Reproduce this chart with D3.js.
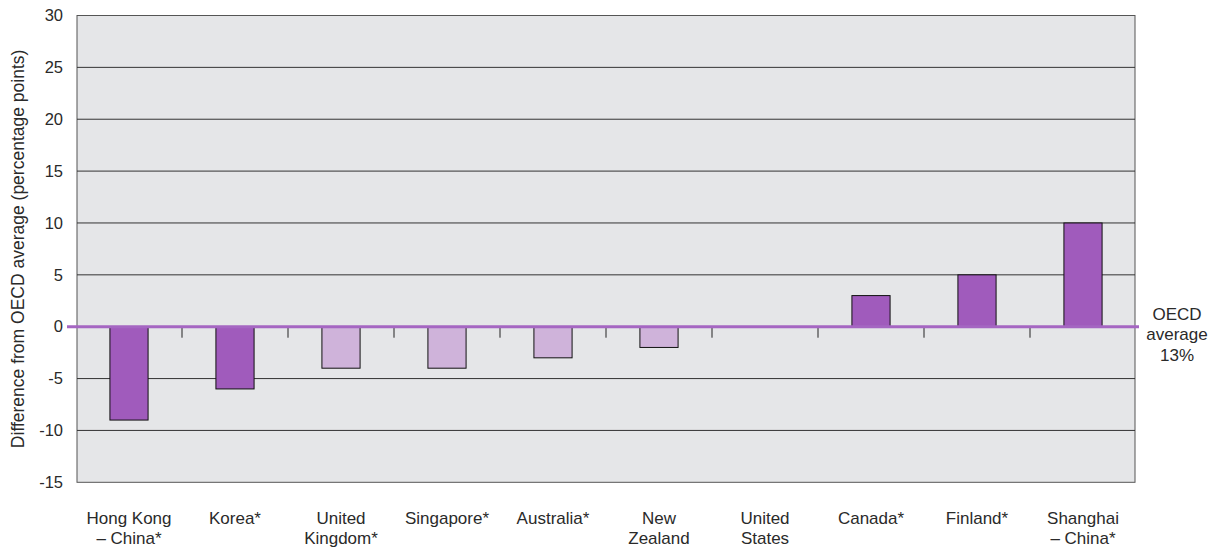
<!DOCTYPE html>
<html><head><meta charset="utf-8">
<script src="https://cdn.jsdelivr.net/npm/d3@7"></script>
<style>
body{margin:0;background:#fff;}
text{font-family:"Liberation Sans",Arial,sans-serif;fill:#2a2a2a;}
</style></head>
<body>
<svg id="c" width="1225" height="547"></svg>
<script>
const categories = ["Hong Kong|– China*","Korea*","United|Kingdom*","Singapore*","Australia*","New|Zealand","United|States","Canada*","Finland*","Shanghai|– China*"];
const values = [-9,-6,-4,-4,-3,-2,0,3,5,10];
const significant = [true,true,false,false,false,false,false,true,true,true];
const yTicks = [30,25,20,15,10,5,0,-5,-10,-15];
const yTitle = "Difference from OECD average (percentage points)";
const avgLabel = ["OECD","average","13%"];

(function(){
const svg = d3.select("#c");
const pL = 77, pR = 1135, pT = 15.5, pB = 482.3;
const x = d3.scaleBand().domain(categories).range([76, 1136]).paddingInner(0.64).paddingOuter(0.32);
const xb = d3.scaleBand().domain(categories).range([76, 1136]);
const y = d3.scaleLinear().domain([-15, 30]).range([pB, pT]);

svg.append("rect").attr("x", pL).attr("y", pT).attr("width", pR-pL).attr("height", pB-pT)
  .attr("fill", "#e5e6e8").attr("stroke", "#555").attr("stroke-width", 1);

svg.append("g").selectAll("line").data(yTicks.filter(d => d !== 0 && d !== 30 && d !== -15)).join("line")
  .attr("x1", pL).attr("x2", pR).attr("y1", d => y(d)).attr("y2", d => y(d))
  .attr("stroke", "#333").attr("stroke-width", 1);

svg.append("g").selectAll("text").data(yTicks).join("text")
  .attr("x", 63).attr("y", d => y(d)).attr("dy", "0.35em").attr("text-anchor", "end")
  .attr("font-size", 16.5).text(d => d);

svg.append("text").attr("transform", `translate(24,${(pT+pB)/2}) rotate(-90)`)
  .attr("text-anchor", "middle").attr("font-size", 17.5).text(yTitle);

svg.append("g").selectAll("rect").data(values.map((v,i)=>({v, c:categories[i], s:significant[i]})).filter(d=>d.v!==0))
  .join("rect")
  .attr("x", d => x(d.c)).attr("width", x.bandwidth())
  .attr("y", d => y(Math.max(0, d.v))).attr("height", d => Math.abs(y(d.v) - y(0)))
  .attr("fill", d => d.s ? "#a05bbc" : "#cfb3da").attr("stroke", "#111").attr("stroke-width", 1);

svg.append("g").selectAll("line").data(categories.slice(1)).join("line")
  .attr("x1", d => xb(d)).attr("x2", d => xb(d)).attr("y1", y(0)).attr("y2", y(0)+11)
  .attr("stroke", "#222").attr("stroke-width", 1);

svg.append("line").attr("x1", 67).attr("x2", 1139).attr("y1", y(0)).attr("y2", y(0))
  .attr("stroke", "#a566c2").attr("stroke-width", 3);

const lines = [];
categories.forEach(c => c.split("|").forEach((t, i) => lines.push({c, t, i})));
svg.append("g").selectAll("text").data(lines).join("text")
  .attr("x", d => xb(d.c) + xb.bandwidth()/2).attr("y", d => 524 + d.i*19.5)
  .attr("text-anchor", "middle").attr("font-size", 17).text(d => d.t);

svg.append("g").selectAll("text").data(avgLabel).join("text")
  .attr("x", 1177).attr("y", (d,i) => y(0) - 7 + i*20.5)
  .attr("text-anchor", "middle").attr("font-size", 17).text(d => d);
})();
</script>
</body></html>
